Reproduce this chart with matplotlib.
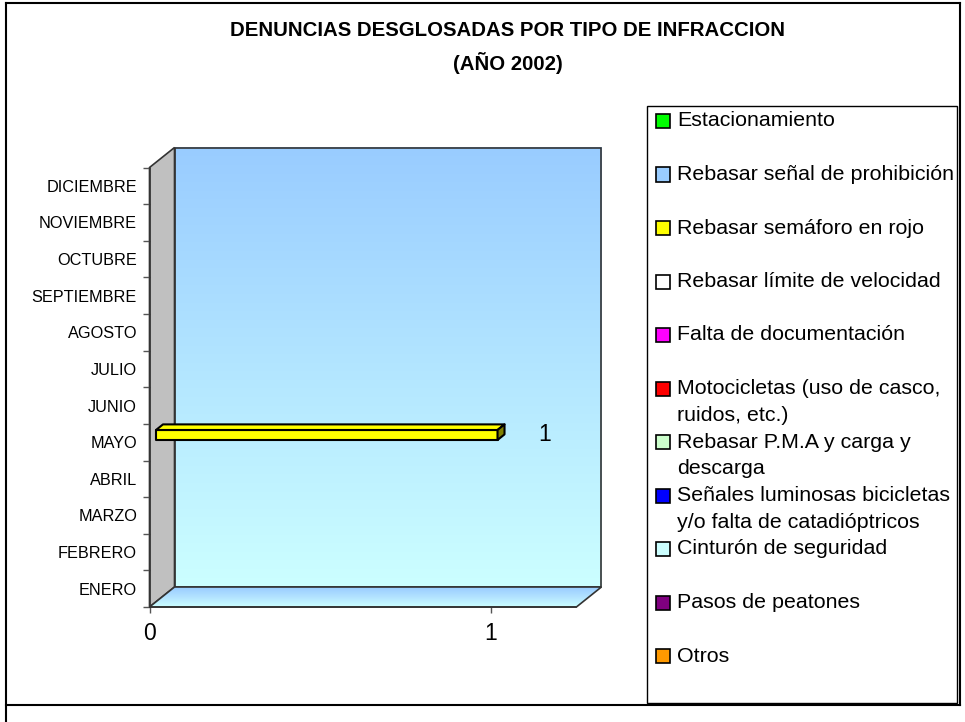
import numpy as np
import matplotlib
matplotlib.use("Agg")
import matplotlib.pyplot as plt
from matplotlib.patches import Polygon, Rectangle
from matplotlib.lines import Line2D
from matplotlib.colors import LinearSegmentedColormap

plt.rcParams['font.family'] = ['Liberation Sans', 'DejaVu Sans']

# ---------------- data ----------------
title_line1 = "DENUNCIAS DESGLOSADAS POR TIPO DE INFRACCION"
title_line2 = "(AÑO 2002)"
months = ["ENERO", "FEBRERO", "MARZO", "ABRIL", "MAYO", "JUNIO", "JULIO",
          "AGOSTO", "SEPTIEMBRE", "OCTUBRE", "NOVIEMBRE", "DICIEMBRE"]
series_names = ["Estacionamiento",
                "Rebasar señal de prohibición",
                "Rebasar semáforo en rojo",
                "Rebasar límite de velocidad",
                "Falta de documentación",
                "Motocicletas (uso de casco,\nruidos, etc.)",
                "Rebasar P.M.A y carga y\ndescarga",
                "Señales luminosas bicicletas\ny/o falta de catadióptricos",
                "Cinturón de seguridad",
                "Pasos de peatones",
                "Otros"]
series_colors = ["#00FF00", "#99CCFF", "#FFFF00", "#FFFFFF", "#FF00FF", "#FF0000",
                 "#CCFFCC", "#0000FF", "#CCFFFF", "#800080", "#FF9900"]
estacionamiento = [0, 0, 0, 0, 0, 0, 0, 0, 0, 0, 0, 0]
senal_prohibicion = [0, 0, 0, 0, 0, 0, 0, 0, 0, 0, 0, 0]
semaforo_rojo = [0, 0, 0, 0, 1, 0, 0, 0, 0, 0, 0, 0]
limite_velocidad = [0, 0, 0, 0, 0, 0, 0, 0, 0, 0, 0, 0]
falta_documentacion = [0, 0, 0, 0, 0, 0, 0, 0, 0, 0, 0, 0]
motocicletas = [0, 0, 0, 0, 0, 0, 0, 0, 0, 0, 0, 0]
pma_carga = [0, 0, 0, 0, 0, 0, 0, 0, 0, 0, 0, 0]
senales_bicicletas = [0, 0, 0, 0, 0, 0, 0, 0, 0, 0, 0, 0]
cinturon = [0, 0, 0, 0, 0, 0, 0, 0, 0, 0, 0, 0]
pasos_peatones = [0, 0, 0, 0, 0, 0, 0, 0, 0, 0, 0, 0]
otros = [0, 0, 0, 0, 0, 0, 0, 0, 0, 0, 0, 0]
series_values = [estacionamiento, senal_prohibicion, semaforo_rojo, limite_velocidad,
                 falta_documentacion, motocicletas, pma_carga, senales_bicicletas,
                 cinturon, pasos_peatones, otros]
x_ticks = [0, 1]
x_max = 1.25

# ---------------- figure ----------------
W, H = 965, 722
fig = plt.figure(figsize=(W / 100, H / 100), dpi=100)
fig.patch.set_facecolor("white")


def fx(px):
    return px / W


def fy(py):
    return 1 - py / H


ax_left, ax_right, ax_top, ax_bottom = 149.5, 576.4, 167.5, 607.0
ax = fig.add_axes([fx(ax_left), fy(ax_bottom), fx(ax_right - ax_left), (ax_bottom - ax_top) / H])
ax.patch.set_visible(False)
n = len(months)
ppx = (ax_right - ax_left) / x_max
ppy = (ax_bottom - ax_top) / n
DX = 25 / ppx
DY = 20 / ppy
edge = "#333333"

# back wall with gradient
grad = np.linspace(0, 1, 256).reshape(-1, 1)
wall_cmap = LinearSegmentedColormap.from_list("wall", ["#CCFFFF", "#99CCFF"])
ax.imshow(grad, extent=[DX, x_max + DX, DY, n + DY], origin="lower", cmap=wall_cmap,
          aspect="auto", zorder=0, clip_on=False, interpolation="bilinear")
ax.add_patch(Rectangle((DX, DY), x_max, n, fill=False, ec=edge, lw=1.2, clip_on=False, zorder=1))

# left side wall
ax.add_patch(Polygon([(0, 0), (DX, DY), (DX, n + DY), (0, n)], closed=True,
                     fc="#C0C0C0", ec=edge, lw=1.2, clip_on=False, zorder=1))

# floor
floor = Polygon([(0, 0), (DX, DY), (x_max + DX, DY), (x_max, 0)], closed=True,
                fc="none", ec=edge, lw=1.2, clip_on=False, zorder=2)
ax.add_patch(floor)
floor_cmap = LinearSegmentedColormap.from_list("floor", ["#CCFFFF", "#B3E3FF", "#99CCFF"])
fim = ax.imshow(grad, extent=[0, x_max + DX, 0, DY], origin="lower", cmap=floor_cmap,
                aspect="auto", zorder=1, interpolation="bilinear")
fim.set_clip_box(fig.bbox)
fim.set_clip_path(floor)

# bars
f0 = 0.26      # depth position of the bar front face
df = 0.28      # bar depth
bar_h = 0.273  # bar height (category units)
y_rel = 0.418  # bar bottom inside category
for s, vals in enumerate(series_values):
    for i, v in enumerate(vals):
        if v <= 0:
            continue
        ox, oy = f0 * DX, f0 * DY
        ddx, ddy = df * DX, df * DY
        yb = i + y_rel + oy
        yt = yb + bar_h
        x0, x1 = ox, v + ox
        col = series_colors[s]
        ax.add_patch(Polygon([(x0, yb), (x1, yb), (x1, yt), (x0, yt)], closed=True,
                             fc=col, ec="black", lw=1.5, clip_on=False, zorder=5, joinstyle="round"))
        ax.add_patch(Polygon([(x0, yt), (x0 + ddx, yt + ddy), (x1 + ddx, yt + ddy), (x1, yt)], closed=True,
                             fc=col, ec="black", lw=1.5, clip_on=False, zorder=5, joinstyle="round"))
        ax.add_patch(Polygon([(x1, yb), (x1, yt), (x1 + ddx, yt + ddy), (x1 + ddx, yb + ddy)], closed=True,
                             fc="#808000", ec="black", lw=1.5, clip_on=False, zorder=5, joinstyle="round"))
        ax.annotate(str(v), xy=(x1, (yb + yt) / 2), xytext=(47, 0), textcoords="offset pixels",
                    ha="center", va="center", fontsize=16.5, color="black")

ax.set_xlim(0, x_max)
ax.set_ylim(0, n)

# axes / ticks
for sp in ["top", "right"]:
    ax.spines[sp].set_visible(False)
for sp in ["left", "bottom"]:
    ax.spines[sp].set_color(edge)
    ax.spines[sp].set_linewidth(1.2)
    ax.spines[sp].set_zorder(3)
ax.set_yticks(np.arange(n + 1))
ax.set_yticklabels([])
ax.set_yticks(np.arange(n) + 0.5, minor=True)
ax.set_yticklabels(months, minor=True)
ax.tick_params(axis="y", which="major", length=4.7, width=1, color="#555555", direction="out")
ax.tick_params(axis="y", which="minor", length=0, pad=9, labelsize=11.7)
ax.set_xticks(x_ticks)
ax.set_xticklabels([str(t) for t in x_ticks])
ax.tick_params(axis="x", which="major", length=4.5, width=1, color="#555555", pad=6, labelsize=16.5)

# title
fig.text(fx(507.5), fy(31), title_line1, ha="center", va="center", fontsize=14.7, fontweight="bold")
fig.text(fx(507.5), fy(63), title_line2, ha="center", va="center", fontsize=14.7, fontweight="bold")

# legend
fig.patches.append(Rectangle((fx(647), fy(703)), fx(957 - 647), (703 - 106) / H, transform=fig.transFigure,
                             fill=False, ec="black", lw=1, zorder=1))
first_y, step, line_gap = 121, 53.5, 27
for k, (name, col) in enumerate(zip(series_names, series_colors)):
    yc = first_y + k * step
    fig.patches.append(Rectangle((fx(656), fy(yc + 7)), fx(14), 14 / H, transform=fig.transFigure,
                                 fc=col, ec="black", lw=1.2, zorder=2))
    for j, line in enumerate(name.split("\n")):
        fig.text(fx(677), fy(yc + j * line_gap), line, ha="left", va="center", fontsize=15.4)

# chart border
for (xa, ya, xb, yb_) in [(6, 3, 960, 3), (6, 3, 6, 722), (960, 3, 960, 705), (6, 705, 960, 705)]:
    fig.lines.append(Line2D([fx(xa), fx(xb)], [fy(ya), fy(yb_)], transform=fig.transFigure,
                            color="black", lw=1.5))

fig.savefig("out.png", dpi=100)
